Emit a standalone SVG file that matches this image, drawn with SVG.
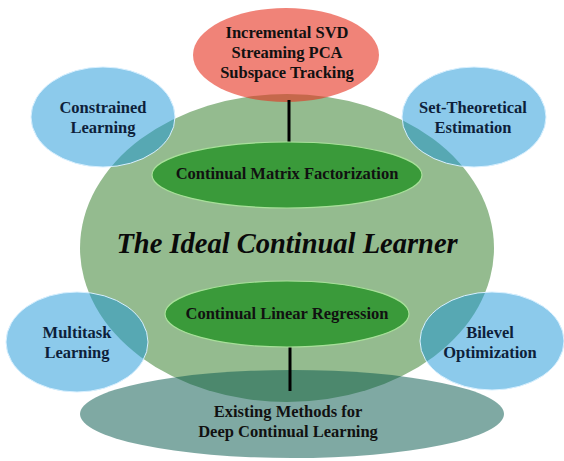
<svg xmlns="http://www.w3.org/2000/svg" width="564" height="461" viewBox="0 0 564 461">
<style>
.t{font-family:"Liberation Serif","DejaVu Serif",serif;font-weight:bold;font-size:16.5px;text-anchor:middle;fill:#111}
.tb{fill:#0e1f3a}
.blue{fill:#1a96d8;fill-opacity:0.5;stroke:#d8f0ff;stroke-width:1}
.inner{fill:#3a9a3a;stroke:#a8e09a;stroke-width:1.2}
</style>
<rect width="564" height="461" fill="#fff"/>
<g id="ideal-learner">
<ellipse cx="287" cy="248" rx="207" ry="154" fill="#94bb8f"/>
<text x="287" y="253" style="font-family:'Liberation Serif','DejaVu Serif',serif;font-weight:bold;font-style:italic;font-size:28.5px;text-anchor:middle;fill:#0a0a0a">The Ideal Continual Learner</text>
</g>
<g id="existing-methods">
<ellipse cx="292" cy="414" rx="212" ry="44" fill="#0a5a4f" fill-opacity="0.52"/>
<text class="t" x="288" y="417">Existing Methods for</text>
<text class="t" x="288" y="437">Deep Continual Learning</text>
</g>
<g id="incremental-svd">
<ellipse cx="286" cy="55" rx="93" ry="47" fill="#e6301e" fill-opacity="0.6"/>
<text class="t" x="287" y="38">Incremental SVD</text>
<text class="t" x="287" y="58">Streaming PCA</text>
<text class="t" x="287" y="78">Subspace Tracking</text>
</g>
<g id="constrained-learning">
<ellipse class="blue" cx="103" cy="117" rx="72" ry="50"/>
<text class="t tb" x="103" y="113">Constrained</text>
<text class="t tb" x="103" y="133">Learning</text>
</g>
<g id="set-theoretical">
<ellipse class="blue" cx="474" cy="117" rx="72" ry="50"/>
<text class="t tb" x="473" y="113">Set-Theoretical</text>
<text class="t tb" x="473" y="133">Estimation</text>
</g>
<g id="multitask-learning">
<ellipse class="blue" cx="77" cy="342" rx="71" ry="50"/>
<text class="t tb" x="77" y="338">Multitask</text>
<text class="t tb" x="77" y="358">Learning</text>
</g>
<g id="bilevel-optimization">
<ellipse class="blue" cx="492" cy="341" rx="72" ry="49"/>
<text class="t tb" x="490" y="338">Bilevel</text>
<text class="t tb" x="490" y="358">Optimization</text>
</g>
<g id="connectors" stroke="#000" stroke-width="3">
<line x1="289" y1="100" x2="289" y2="146"/>
<line x1="290" y1="343" x2="290" y2="391"/>
</g>
<g id="matrix-factorization">
<ellipse class="inner" cx="287" cy="175" rx="135" ry="33"/>
<text class="t" x="287" y="179">Continual Matrix Factorization</text>
</g>
<g id="linear-regression">
<ellipse class="inner" cx="287" cy="314" rx="122" ry="33"/>
<text class="t" x="287" y="319">Continual Linear Regression</text>
</g>
</svg>
